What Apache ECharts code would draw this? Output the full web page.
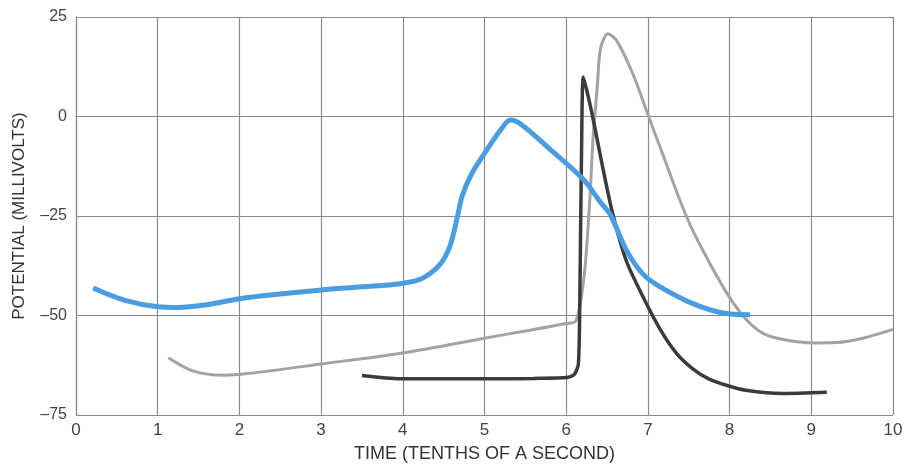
<!DOCTYPE html>
<html>
<head>
<meta charset="utf-8">
<script src="https://cdn.jsdelivr.net/npm/echarts@6/dist/echarts.min.js"></script>
<style>html,body{margin:0;padding:0;background:#fff}#c{width:906px;height:468px}</style>
</head>
<body>
<div id="c"></div>
<script>
var xTicks = [0,1,2,3,4,5,6,7,8,9,10];
var yTicks = [25,0,-25,-50,-75];

var blueX = [0.21,0.6,1.0,1.25,1.6,2.0,2.5,3.0,3.5,3.97,4.2,4.35,4.47,4.56,4.62,4.67,4.73,4.84,4.98,5.19,5.32,5.45,5.8,6.2,6.41,6.54,6.74,6.94,7.15,7.55,7.96,8.25];
var blueY = [-43.1,-46.2,-47.8,-48.0,-47.3,-45.8,-44.6,-43.6,-42.8,-42.0,-41.0,-39.2,-36.8,-33.5,-29.5,-25.0,-19.8,-14.5,-9.9,-3.6,-0.9,-2.0,-8.2,-15.6,-21.3,-24.7,-33.7,-39.6,-42.8,-47.0,-49.5,-49.8];

var greyX = [1.13,1.43,1.8,2.1,3.0,4.0,5.0,6.0,6.12,6.22,6.29,6.33,6.38,6.42,6.51,6.62,6.82,7.0,7.2,7.4,7.55,7.76,7.97,8.16,8.37,8.6,9.02,9.3,9.63,10.0];
var greyY = [-60.6,-63.9,-65.0,-64.6,-62.2,-59.4,-55.7,-52.0,-51.3,-40.0,-20.5,-5.0,7.4,17.0,20.8,19.0,10.5,0.5,-10.5,-21.5,-28.7,-37.0,-44.5,-50.0,-54.0,-55.8,-56.9,-56.8,-55.7,-53.5];

var blackX = [3.5,3.97,4.5,5.19,5.6,6.01,6.1,6.15,6.17,6.19,6.21,6.27,6.33,6.45,6.57,6.74,6.94,7.15,7.35,7.55,7.75,7.97,8.2,8.65,9.19];
var blackY = [-65.1,-65.9,-65.9,-65.9,-65.8,-65.6,-64.8,-62.0,-40.0,-5.0,9.9,5.0,-0.7,-13.1,-24.5,-36.5,-45.3,-53.5,-59.5,-63.4,-66.0,-67.6,-68.8,-69.6,-69.3];

function pairs(xs, ys){ return xs.map(function(x,i){return [x, ys[i]];}); }

var chart = echarts.init(document.getElementById('c'), null, {renderer:'canvas'});
var gridColor = '#8a8a8a';
var font = 'Liberation Sans';
chart.setOption({
  animation:false,
  backgroundColor:'#fff',
  grid:{left:76, right:13, top:17, bottom:47, show:false},
  xAxis:{
    type:'value', min:0, max:10, interval:1,
    name:'TIME (TENTHS OF A SECOND)', nameLocation:'middle', nameGap:30,
    nameTextStyle:{fontFamily:font, fontSize:18, color:'#333'},
    axisLine:{show:true, lineStyle:{color:gridColor, width:1.2}},
    axisTick:{show:false},
    axisLabel:{fontFamily:font, fontSize:17, color:'#444', margin:7},
    splitLine:{show:true, lineStyle:{color:gridColor, width:1.2}}
  },
  yAxis:{
    type:'value', min:-75, max:25, interval:25,
    name:'POTENTIAL (MILLIVOLTS)', nameLocation:'middle', nameGap:48, nameRotate:90,
    nameTextStyle:{fontFamily:font, fontSize:17, color:'#333'},
    axisLine:{show:true, lineStyle:{color:gridColor, width:1.2}},
    axisTick:{show:false},
    axisLabel:{fontFamily:font, fontSize:16, color:'#444', margin:9,
      formatter:function(v){ return v<0 ? '\u2013' + (-v) : String(v); }},
    splitLine:{show:true, lineStyle:{color:gridColor, width:1.2}}
  },
  series:[
    {type:'line', data:pairs(greyX, greyY), smooth:0.3, symbol:'none',
      lineStyle:{color:'#a3a3a3', width:3}},
    {type:'line', data:pairs(blackX, blackY), smooth:0.25, symbol:'none',
      lineStyle:{color:'#3b3b3b', width:3.5}},
    {type:'line', data:pairs(blueX, blueY), smooth:0.35, symbol:'none',
      lineStyle:{color:'#4a9de0', width:5}}
  ]
});
</script>
</body>
</html>
